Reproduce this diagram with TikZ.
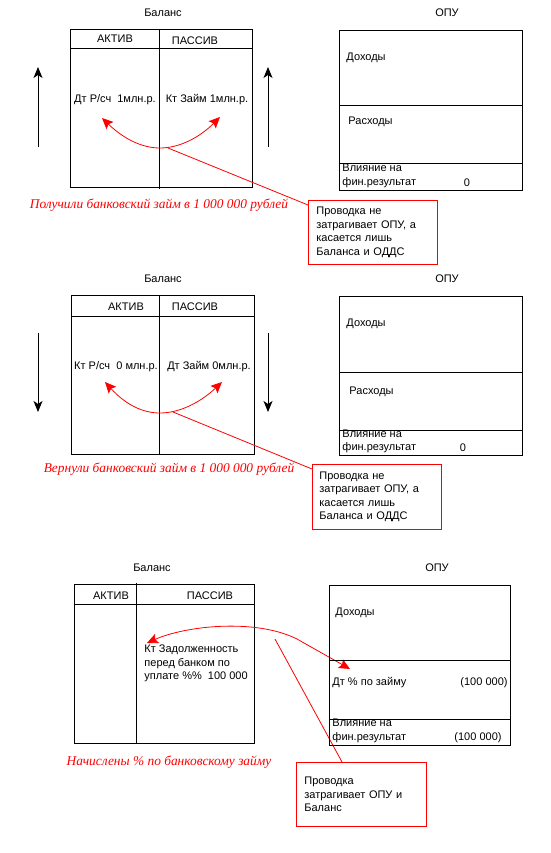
\documentclass[tikz,border=0pt]{standalone}
\usepackage{fontspec}
\setmainfont{Liberation Sans}
\newfontfamily\capfont{Liberation Serif}
\usepackage{xcolor}
\definecolor{linkred}{HTML}{FF0000}
\usepackage{tikz}
\usetikzlibrary{arrows.meta, positioning}

\begin{document}
\begin{tikzpicture}[x=1pt, y=-1pt, line width=0.9pt,
  txt/.style={font=\fontsize{11}{13.5}\selectfont, inner sep=0pt},
  saying/.style={font=\capfont\itshape\fontsize{13.4}{15}\selectfont, text=linkred, inner sep=0pt},
  notebox/.style={txt, draw=linkred, line width=0.8pt, align=left, text width=113pt,
    inner xsep=8pt, minimum height=64pt, anchor=north west},
  move/.style={-{Stealth[length=11pt,width=9pt,inset=3pt]}},
  redlink/.style={draw=linkred, line width=0.8pt},
  redtips/.style={redlink, {Stealth[length=11pt,width=10pt,inset=2pt]}-{Stealth[length=11pt,width=10pt,inset=2pt]}}]
  \useasboundingbox (0,0) rectangle (550,853);

  % ---- 1: loan received
  \node[txt] (bal1) at (163,13) {Баланс};
  \draw (70,29) rectangle (252,187);
  \draw (70,48) -- (252,48);
  \draw (159,29) -- (159,189);
  \node[txt] (act1) at (115,39) {АКТИВ};
  \node[txt] (pas1) at (195,41) {ПАССИВ};
  \node[txt] (deb1) at (115,100) {Дт Р/сч\ \ 1млн.р.};
  \node[txt] (cre1) at (207,100) {Кт Займ 1млн.р.};
  \coordinate (upL1a) at (38,147); \coordinate (upL1b) at (38,67);
  \coordinate (upR1a) at (268,147); \coordinate (upR1b) at (268,67);
  \draw[move] (upL1a) -- (upL1b);
  \draw[move] (upR1a) -- (upR1b);
  % red double arrow under the entries
  \coordinate (tipL1) at (102,118); \coordinate (low1) at (160,148); \coordinate (tipR1) at (220,117);
  \draw[redtips] (tipL1) .. controls (125,140) and (143,148) .. (low1) .. controls (180,148) and (200,137) .. (tipR1);
  \node[saying] (say1) at (159,205) {Получили банковский займ в 1 000 000 рублей};
  \node[notebox] (why1) at (308,200) {Проводка не\\затрагивает ОПУ, а\\касается лишь\\Баланса и ОДДС};
  \coordinate (from1) at (168,148); \coordinate (to1) at (308,205);
  \draw[redlink] (from1) -- (to1);
  % OPU
  \node[txt] (opu1) at (447,13) {ОПУ};
  \draw (339,30) rectangle (522,190);
  \draw (339,105) -- (522,105);
  \draw (339,163) -- (522,163);
  \node[txt, anchor=west] (inc1) at (346,58) {Доходы};
  \node[txt, anchor=west] (exp1) at (348,122) {Расходы};
  \node[txt, anchor=west, align=left] (res1) at (342,176) {Влияние на\\фин.результат};
  \node[txt] (zero1) at (467,183) {0};

  % ---- 2: loan returned
  \node[txt] (bal2) at (163,279) {Баланс};
  \draw (71,295) rectangle (254,454);
  \draw (71,316) -- (254,316);
  \draw (159,295) -- (159,455);
  \node[txt] (act2) at (126,307) {АКТИВ};
  \node[txt] (pas2) at (195,307) {ПАССИВ};
  \node[txt] (cre2) at (116,367) {Кт Р/сч\ \ 0 млн.р.};
  \node[txt] (deb2) at (209,367) {Дт Займ 0млн.р.};
  \coordinate (dnL2a) at (38,333); \coordinate (dnL2b) at (38,412);
  \coordinate (dnR2a) at (268,333); \coordinate (dnR2b) at (268,412);
  \draw[move] (dnL2a) -- (dnL2b);
  \draw[move] (dnR2a) -- (dnR2b);
  \coordinate (tipL2) at (105,382); \coordinate (low2) at (160,413); \coordinate (tipR2) at (222,382);
  \draw[redtips] (tipL2) .. controls (126,405) and (143,413) .. (low2) .. controls (182,413) and (203,400) .. (tipR2);
  \node[saying] (say2) at (169,469) {Вернули банковский займ в 1 000 000 рублей};
  \node[notebox, inner xsep=7pt, text width=115pt, minimum height=65pt] (why2) at (312,464) {Проводка не\\затрагивает ОПУ, а\\касается лишь\\Баланса и ОДДС};
  \coordinate (from2) at (173,412); \coordinate (to2) at (312,469);
  \draw[redlink] (from2) -- (to2);
  % OPU
  \node[txt] (opu2) at (447,279) {ОПУ};
  \draw (339,296) rectangle (522,455);
  \draw (339,372) -- (522,372);
  \draw (339,430) -- (522,430);
  \node[txt, anchor=west] (inc2) at (346,324) {Доходы};
  \node[txt, anchor=west] (exp2) at (349,392) {Расходы};
  \node[txt, anchor=west, align=left] (res2) at (342,441.5) {Влияние на\\фин.результат};
  \node[txt] (zero2) at (463,448) {0};

  % ---- 3: interest accrued
  \node[txt] (bal3) at (152,568) {Баланс};
  \draw (74,584) rectangle (254,743);
  \draw (74,604) -- (254,604);
  \draw (136,583) -- (136,743);
  \node[txt] (act3) at (111,596) {АКТИВ};
  \node[txt] (pas3) at (210,596) {ПАССИВ};
  \node[txt, anchor=west, align=left] (cre3) at (144,663.5) {Кт Задолженность\\перед банком по\\уплате \%\%\ \ 100 000};
  \coordinate (tipL3) at (147,643); \coordinate (bend3) at (297,639); \coordinate (tipR3) at (350,669);
  \draw[redtips] (tipL3) .. controls (185,626) and (255,618) .. (bend3) -- (tipR3);
  \node[saying] (say3) at (169,762) {Начислены \% по банковскому займу};
  \node[notebox, text width=114pt] (why3) at (296,762) {Проводка\\затрагивает ОПУ и\\Баланс};
  \coordinate (from3) at (275,639); \coordinate (to3) at (342,762);
  \draw[redlink] (from3) -- (to3);
  % OPU
  \node[txt] (opu3) at (437,568) {ОПУ};
  \draw (329,585) rectangle (510,745);
  \draw (329,660) -- (510,660);
  \draw (329,719) -- (510,719);
  \node[txt, anchor=west] (inc3) at (335,613) {Доходы};
  \node[txt, anchor=west] (exp3) at (332,683) {Дт \% по займу};
  \node[txt, anchor=east] (sum3) at (508,683) {(100 000)};
  \node[txt, anchor=west, align=left] (res3) at (332,731) {Влияние на\\фин.результат};
  \node[txt, anchor=east] (tot3) at (502,738) {(100 000)};
\end{tikzpicture}
\end{document}
